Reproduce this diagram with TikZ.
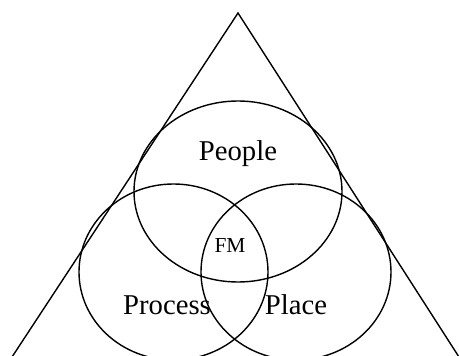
\documentclass[tikz,border=0pt]{standalone}
\usepackage{fontspec}
\setmainfont{Liberation Serif}
\usetikzlibrary{shapes.geometric}
\begin{document}
\begin{tikzpicture}[x=1pt,y=-1pt,
  ring/.style={draw,ellipse,line width=1.4pt,inner sep=0pt},
  lbl/.style={inner sep=0pt,font=\fontsize{28.7}{30}\selectfont},
  small/.style={inner sep=0pt,font=\fontsize{21.4}{23}\selectfont}]
\useasboundingbox (0,0) rectangle (459,356);
\clip (0,0) rectangle (459,356);
\coordinate (apex) at (238,13);
\coordinate (bl) at (12,357);
\coordinate (br) at (459,357);
\draw[line width=1.4pt] (bl) -- (apex) -- (br);
\node[ring,minimum width=208pt,minimum height=181pt] (people) at (238,191.5) {};
\node[ring,minimum width=189pt,minimum height=176pt] (process) at (173.5,272) {};
\node[ring,minimum width=190pt,minimum height=176pt] (place) at (296,272) {};
\node[lbl] (tpeople) at (238,154) {People};
\node[lbl] (tprocess) at (167,305) {Process};
\node[lbl] (tplace) at (296,305) {Place};
\node[small] (tfm) at (230,245) {FM};
\end{tikzpicture}
\end{document}
